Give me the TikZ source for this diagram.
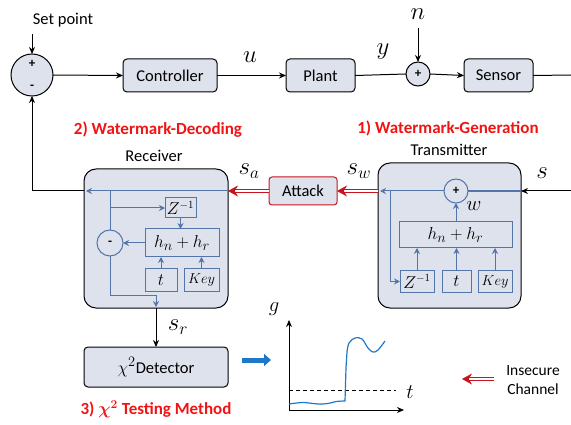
\documentclass[tikz,border=0pt]{standalone}
\usepackage{fontspec}
\setmainfont{Carlito}
\usetikzlibrary{arrows.meta}
\definecolor{fillg}{RGB}{222,226,236}
\definecolor{wb}{RGB}{84,117,170}
\definecolor{ared}{RGB}{200,20,30}
\definecolor{tred}{RGB}{240,20,20}
\definecolor{cblue}{RGB}{30,120,200}
\begin{document}
\begin{tikzpicture}[x=1pt,y=-1pt,
  >={Stealth[length=7pt,width=6pt]},
  every node/.style={inner sep=0pt, outer sep=0pt},
  txt/.style={font=\fontsize{16.5}{19}\selectfont},
  mlab/.style={font=\fontsize{23}{25}\selectfont},
  rtitle/.style={text=tred, font=\fontsize{17}{20}\selectfont\bfseries\boldmath},
  blk/.style={draw=black, fill=fillg, rounded corners=4pt, line width=1pt, font=\fontsize{16.5}{19}\selectfont},
  bigblk/.style={draw=black, fill=fillg, rounded corners=12pt, line width=1pt},
  circ/.style={draw=black, fill=fillg, circle, line width=1pt},
  wbox/.style={draw=wb, line width=1pt, fill=fillg},
  wline/.style={draw=wb, line width=1pt, -{Stealth[length=6pt,width=6pt]}},
  wplain/.style={draw=wb, line width=1pt},
  blkline/.style={draw=black, line width=1pt},
  redarr/.style={draw=ared, double=white, double distance=2pt, line width=1pt, -{Stealth[length=10pt,width=11pt]}},
]
\useasboundingbox (0,0) rectangle (571,425);

% ---------- top loop ----------
\node[circ, minimum size=42pt] (sum1) at (32,75) {};
\node[font=\fontsize{13}{15}\selectfont\bfseries] (p1) at (32,64) {+};
\node[font=\fontsize{13}{15}\selectfont\bfseries] (m1) at (32,87) {-};
\node[txt] (setpt) at (63,20) {Set point};
\coordinate (spin) at (32,34);
\node[blk, minimum width=94pt, minimum height=33pt] (ctrl) at (170,75.5) {Controller};
\node[blk, minimum width=69pt, minimum height=33pt] (plant) at (320.5,75.5) {Plant};
\node[circ, minimum size=24pt] (sum2) at (418,74) {};
\node[font=\fontsize{13}{15}\selectfont\bfseries] (p2) at (418,74) {+};
\node[blk, minimum width=69pt, minimum height=33pt] (sensor) at (498.5,75.5) {Sensor};
\node[mlab] (lu) at (250,57) {$u$};
\node[mlab] (ly) at (383,52) {$y$};
\node[mlab] (ln) at (418,14) {$n$};
\coordinate (nin) at (418,28);
\coordinate (out1) at (571,75);
\coordinate (in1) at (571,191);

\draw[blkline,->] (spin) -- (sum1.north);
\draw[blkline,->] (sum1.east) -- (ctrl.west);
\draw[blkline,->] (ctrl.east) -- (plant.west);
\draw[blkline] (plant.east) -- (sum2.west);
\draw[blkline,->] (nin) -- (sum2.north);
\draw[blkline,->] (sum2.east) -- (sensor.west);
\draw[blkline] (sensor.east) -- (out1);

% ---------- titles ----------
\node[rtitle] (t2) at (158,130) {2) Watermark-Decoding};
\node[rtitle] (t1) at (448,128) {1) Watermark-Generation};
\node[txt] (recl) at (154,156) {Receiver};
\node[txt] (trl) at (449,150) {Transmitter};

% ---------- receiver ----------
\node[bigblk, minimum width=144pt, minimum height=139pt] (rx) at (156,238.5) {};
\node[draw=wb, line width=1pt, fill=fillg, circle, minimum size=26pt, font=\fontsize{13}{15}\selectfont\bfseries] (rsub) at (110,243) {-};
\node[wbox, minimum width=31pt, minimum height=20pt, font=\fontsize{16}{18}\selectfont] (rz) at (180.5,208) {$Z^{-1}$};
\node[wbox, minimum width=74pt, minimum height=28pt, font=\fontsize{19}{21}\selectfont] (rh) at (182,243) {$h_n+h_r$};
\node[wbox, minimum width=32pt, minimum height=22pt, font=\fontsize{16}{18}\selectfont] (rt) at (161,280) {$t$};
\node[wbox, minimum width=35pt, minimum height=22pt, font=\fontsize{15.5}{18}\selectfont] (rk) at (201.5,280) {$Key$};
\coordinate (rxin) at (86,191);
\coordinate (rb) at (110,191);
\coordinate (rb2) at (110,208);
\coordinate (rc) at (156,295);
\coordinate (rout) at (156,307);

% ---------- transmitter ----------
\node[bigblk, minimum width=143pt, minimum height=145pt] (tx) at (449.5,235.5) {};
\node[draw=wb, line width=1pt, fill=fillg, circle, minimum size=24pt, font=\fontsize{13}{15}\selectfont\bfseries] (tplus) at (456,191) {+};
\node[wbox, minimum width=113pt, minimum height=26pt, font=\fontsize{19}{21}\selectfont] (th) at (455.5,235) {$h_n+h_r$};
\node[wbox, minimum width=34pt, minimum height=21pt, font=\fontsize{16}{18}\selectfont] (tz) at (417,281.5) {$Z^{-1}$};
\node[wbox, minimum width=29pt, minimum height=21pt, font=\fontsize{16}{18}\selectfont] (tt) at (456.5,281.5) {$t$};
\node[wbox, minimum width=34pt, minimum height=21pt, font=\fontsize{15.5}{18}\selectfont] (tk) at (495,281.5) {$Key$};
\node[font=\fontsize{21}{23}\selectfont] (lw) at (474,206) {$w$};
\coordinate (tb) at (390,191);
\coordinate (txout) at (380,191);

% ---------- attack ----------
\node[draw=ared, fill=fillg, rounded corners=3pt, line width=1pt, minimum width=68pt, minimum height=28pt, font=\fontsize{16.5}{19}\selectfont] (attack) at (303,191) {Attack};
\node[mlab] (lsa) at (249,171) {$s_a$};
\node[mlab] (lsw) at (359,171) {$s_w$};
\node[mlab] (ls) at (542,173) {$s$};

% connectors: transmitter
\draw[blkline,->] (in1) -- (tx.east |- in1);
\draw[wplain, line width=1.8pt] (tx.east |- in1) -- (tplus.east);
\draw[wline] (tplus.west) -- (txout);
\draw[wline] (tb) |- (tz.west);
\draw[wline] (tz.north) -- (tz.north |- th.south);
\draw[wline] (tt.north) -- (tt.north |- th.south);
\draw[wline] (tk.north) -- (tk.north |- th.south);
\draw[wline] (th.north -| tplus) -- (tplus.south);

% red channel
\draw[redarr] (tx.west |- in1) -- (attack.east);
\draw[redarr] (attack.west) -- (rx.east |- in1);

% receiver connectors
\draw[wline] (rx.east |- in1) -- (rxin);
\draw[blkline,->] (rx.west |- in1) -| (sum1.south);
\draw[wplain] (rb) -- (rsub.north);
\draw[wline] (rb2) -- (rz.west);
\draw[wline] (rz.south) -- (rz.south |- rh.north);
\draw[wline] (rh.west) -- (rsub.east);
\draw[wline] (rt.north) -- (rt.north |- rh.south);
\draw[wline] (rk.north) -- (rk.north |- rh.south);
\draw[wplain] (rsub.south) |- (rc);
\draw[wline] (rc) -- (rout);

% ---------- detector ----------
\node[blk, minimum width=144pt, minimum height=40pt] (det) at (156,367) {{\fontsize{19}{21}\selectfont$\chi^2$}Detector};
\draw[blkline,->] (rx.south) -- (det.north);
\node[mlab] (lsr) at (178,327) {$s_r$};
\node[rtitle] (t3) at (156,409) {3) $\chi^2$ Testing Method};

% ---------- graph ----------
\coordinate (ba1) at (242,360);
\coordinate (ba2) at (271,360);
\draw[cblue, line width=5pt, -{Triangle[length=7pt,width=12pt]}] (ba1) -- (ba2);
\coordinate (O) at (289,410);
\coordinate (gy) at (289,320);
\coordinate (gx) at (404,410);
\draw[blkline,->] (O) -- (gy);
\draw[blkline,->] (O) -- (gx);
\coordinate (d1) at (289,390);
\coordinate (d2) at (396,390);
\draw[black, line width=0.8pt, dash pattern=on 4pt off 3pt] (d1) -- (d2);
\node[font=\fontsize{20}{22}\selectfont] (lg) at (274,309) {$g$};
\node[font=\fontsize{20}{22}\selectfont] (lt) at (410,392) {$t$};
\draw[cblue, line width=1.2pt] plot[smooth, tension=0.5] coordinates {(289,404) (303,402.5) (318,404) (328,403.5) (336,401.5) (345,401)} -- (346,368) -- (347,352) plot[smooth, tension=0.6] coordinates {(347,352) (349,343) (355,338) (362,339) (368,348) (373,352) (378,350) (385,341)};

% ---------- legend ----------
\coordinate (ic1) at (494,379);
\coordinate (ic2) at (462,379);
\draw[redarr] (ic1) -- (ic2);
\node[txt, font=\fontsize{15.5}{19}\selectfont, align=center] (ic) at (533,380) {Insecure\\Channel};
\end{tikzpicture}
\end{document}
